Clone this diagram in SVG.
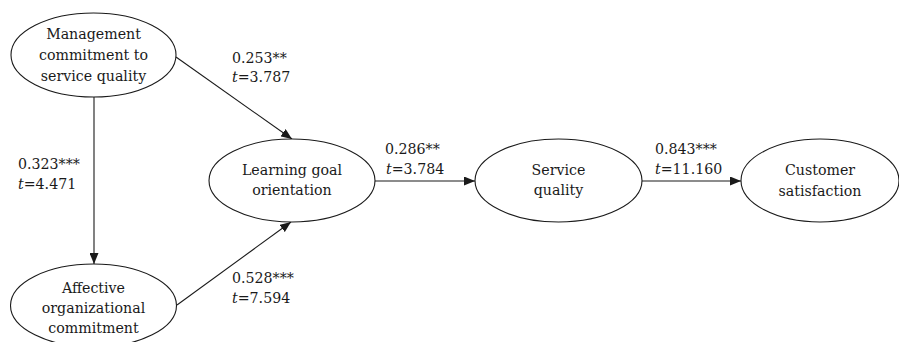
<svg xmlns="http://www.w3.org/2000/svg" width="899" height="342" viewBox="0 0 899 342">
<style>
.node ellipse{fill:#fff;stroke:#1a1a1a;stroke-width:1.1}
text{font-family:'DejaVu Serif','Liberation Serif',serif;font-size:14.2px;fill:#1a1a1a}
.c{text-anchor:middle}
.edge{stroke:#1a1a1a;stroke-width:1.1;fill:none;marker-end:url(#ah)}
.i{font-style:italic}
</style>
<defs>
<marker id="ah" markerUnits="userSpaceOnUse" markerWidth="11" markerHeight="9" refX="11" refY="4.5" orient="auto">
<path d="M0,0 L11,4.5 L0,9 z" fill="#1a1a1a"/>
</marker>
</defs>
<g id="connectors">
<line class="edge" x1="176" y1="57" x2="292" y2="139"/>
<line class="edge" x1="94" y1="97" x2="94" y2="264"/>
<line class="edge" x1="177" y1="305" x2="291" y2="222"/>
<line class="edge" x1="375" y1="181" x2="475" y2="181"/>
<line class="edge" x1="642" y1="181" x2="741" y2="181"/>
</g>
<g id="labels">
<text x="232" y="63">0.253**</text>
<text x="232" y="82"><tspan class="i">t</tspan>=3.787</text>
<text x="18" y="169">0.323***</text>
<text x="18" y="189"><tspan class="i">t</tspan>=4.471</text>
<text x="232" y="283">0.528***</text>
<text x="232" y="303"><tspan class="i">t</tspan>=7.594</text>
<text x="385" y="154">0.286**</text>
<text x="386" y="174"><tspan class="i">t</tspan>=3.784</text>
<text x="655" y="154">0.843***</text>
<text x="655" y="174"><tspan class="i">t</tspan>=11.160</text>
</g>
<g id="n-management" class="node">
<ellipse cx="93.5" cy="55" rx="82.5" ry="42"/>
<text class="c" x="93.5" y="39">Management</text>
<text class="c" x="93.5" y="60">commitment to</text>
<text class="c" x="93.5" y="81">service quality</text>
</g>
<g id="n-affective" class="node">
<ellipse cx="93.5" cy="305.5" rx="83" ry="41.5"/>
<text class="c" x="93.5" y="293">Affective</text>
<text class="c" x="93.5" y="313">organizational</text>
<text class="c" x="93.5" y="333">commitment</text>
</g>
<g id="n-learning" class="node">
<ellipse cx="292" cy="180.5" rx="83" ry="41.5"/>
<text class="c" x="292" y="175">Learning goal</text>
<text class="c" x="292" y="195">orientation</text>
</g>
<g id="n-service" class="node">
<ellipse cx="558.5" cy="180.5" rx="83.5" ry="41.5"/>
<text class="c" x="558.5" y="175">Service</text>
<text class="c" x="558.5" y="195">quality</text>
</g>
<g id="n-customer" class="node">
<ellipse cx="820" cy="180.5" rx="79" ry="41.5"/>
<text class="c" x="820" y="175">Customer</text>
<text class="c" x="820" y="196">satisfaction</text>
</g>
</svg>
